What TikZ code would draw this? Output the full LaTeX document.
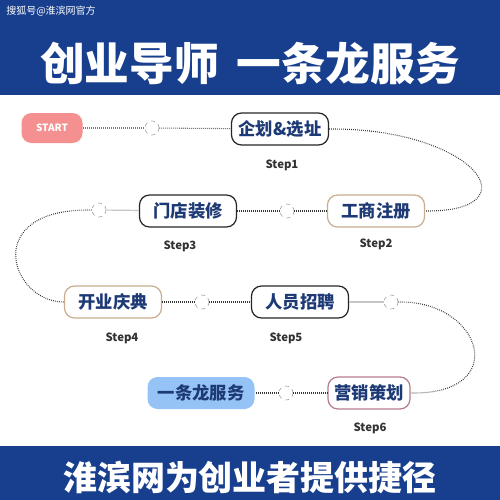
\documentclass[tikz,border=0pt]{standalone}
\usepackage{fontspec}
\newfontfamily\cjk{Noto Sans CJK SC}
\definecolor{bandblue}{RGB}{24,63,142}
\definecolor{navytext}{RGB}{30,58,118}
\definecolor{tanline}{RGB}{201,173,142}
\definecolor{mauveline}{RGB}{183,124,140}
\definecolor{lightblue}{RGB}{150,195,245}
\definecolor{startpink}{RGB}{244,144,143}
\definecolor{steptext}{RGB}{50,50,50}
\tikzset{
    stepbox/.style={draw, rounded corners=7.5pt, line width=0.9pt, fill=white, minimum width=72.75pt, minimum height=24pt, inner sep=0pt, font=\cjk\bfseries\fontsize{13}{13}\selectfont, text=navytext},
    steplabel/.style={font=\cjk\bfseries\fontsize{8.5}{9}\selectfont, text=steptext, inner sep=0.75pt},
    joint/.style={circle, draw=gray!70, dashed, line width=0.5pt, fill=white, minimum size=10.5pt, inner sep=0pt},
    dotline/.style={line width=0.8pt, dash pattern=on 0.6pt off 0.9pt, black!80},
    greyline/.style={line width=0.9pt, gray!45}
}
\begin{document}
\begin{tikzpicture}[x=0.75pt,y=0.75pt,yscale=-1,xscale=1]
        \useasboundingbox (0,0) rectangle (500,500);
        % bands
        \fill[bandblue] (0,0) rectangle (500,95);
        \fill[bandblue] (0,446) rectangle (500,500);
        \draw (6,11) node [anchor=west][inner sep=0pt][text=white][font=\cjk\fontsize{7.5}{8}\selectfont] (src) {搜狐号@淮滨网官方};
        \draw (250,63) node [inner sep=0pt][text=white][font=\cjk\bfseries\fontsize{33.5}{34}\selectfont] (title) {创业导师\hspace{0.4em}一条龙服务};
        \draw (250,478) node [inner sep=0pt][text=white][font=\cjk\bfseries\fontsize{25.5}{26}\selectfont] (slogan) {淮滨网为创业者提供捷径};
        % steps
        \draw (52,128) node [stepbox][draw=none][fill=startpink][minimum width=45.75pt][minimum height=22.5pt][text=white][font=\cjk\bfseries\fontsize{7.5}{8}\selectfont] (start) {START};
        \draw (280,129) node [stepbox][draw=black!85] (qhxz) {企划\&选址};
        \draw (376,211) node [stepbox][draw=tanline] (gszc) {工商注册};
        \draw (188,211) node [stepbox][draw=black!85] (mdzx) {门店装修};
        \draw (113,302) node [stepbox][draw=tanline] (kyqd) {开业庆典};
        \draw (300,302) node [stepbox][draw=black!85] (rygp) {人员招聘};
        \draw (369,393) node [stepbox][draw=mauveline][minimum width=61.5pt] (yxch) {营销策划};
        \draw (201,393) node [stepbox][draw=none][fill=lightblue][minimum width=80.25pt] (ylfw) {一条龙服务};
        % step labels
        \draw (282,165) node [steplabel] (s1) {Step1};
        \draw (376,244) node [steplabel] (s2) {Step2};
        \draw (180,246) node [steplabel] (s3) {Step3};
        \draw (122,338) node [steplabel] (s4) {Step4};
        \draw (286,338) node [steplabel] (s5) {Step5};
        \draw (370,428) node [steplabel] (s6) {Step6};
        % joints
        \draw (152,128) node [joint] (j1) {};
        \draw (287,211) node [joint] (j2) {};
        \draw (99,210) node [joint] (j3) {};
        \draw (202,302) node [joint] (j4) {};
        \draw (391,302) node [joint] (j5) {};
        \draw (286,393) node [joint] (j6) {};
        % connectors
        \draw [dotline] (start) -- (j1) -- (qhxz);
        \draw [dotline] (qhxz.east) .. controls (475,128) and (535,212) .. (gszc.east);
        \draw [dotline] (gszc) -- (j2) -- (mdzx);
        \draw [greyline] (mdzx) -- (j3);
        \draw [dotline] (j3.west) .. controls (-20,208) and (10,302) .. (kyqd.west);
        \draw [dotline] (kyqd) -- (j4) -- (rygp);
        \draw [greyline] (rygp) -- (j5);
        \draw [dotline] (j5.east) .. controls (482,300) and (512,395) .. (yxch.east);
        \draw [dotline] (yxch) -- (j6) -- (ylfw);
    \end{tikzpicture}
\end{document}
